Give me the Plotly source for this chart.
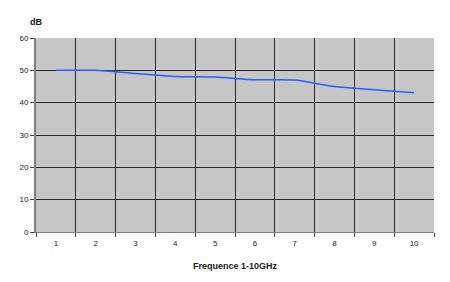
import plotly.graph_objects as go

categories = ["1", "2", "3", "4", "5", "6", "7", "8", "9", "10"]
db_values = [50, 50, 49, 48.1, 47.9, 47.1, 47, 45, 44, 43.1]
y_ticks = [0, 10, 20, 30, 40, 50, 60]

fig = go.Figure()
fig.add_trace(go.Scatter(
    x=categories, y=db_values, mode="lines",
    line=dict(color="#2660ff", width=1.5, shape="spline", smoothing=0.6),
    showlegend=False, hoverinfo="skip",
))

fig.update_layout(
    width=450, height=282,
    margin=dict(l=36, r=16, t=38, b=50),
    paper_bgcolor="white",
    plot_bgcolor="#c6c6c6",
    font=dict(family="Liberation Sans, Arial, sans-serif", size=8, color="#222222"),
    xaxis=dict(
        type="category", tickson="boundaries",
        showgrid=True, gridcolor="#2a2a2a", gridwidth=1,
        ticks="outside", ticklen=4, tickcolor="#444444",
        showline=True, linecolor="#808080", linewidth=1,
        title=dict(text="<b>Frequence 1-10GHz</b>", font=dict(size=9), standoff=16),
        tickfont=dict(size=8), ticklabelstandoff=3,
        range=[-0.5, 9.5],
    ),
    yaxis=dict(
        range=[0, 60], tickvals=y_ticks,
        showgrid=True, gridcolor="#2a2a2a", gridwidth=1,
        ticks="outside", ticklen=4, tickcolor="#444444",
        showline=True, linecolor="#808080", linewidth=2,
        zeroline=False, tickfont=dict(size=8),
    ),
    annotations=[dict(
        text="<b>dB</b>", xref="paper", yref="paper",
        x=0.0, y=1.085, xanchor="center", yanchor="middle",
        showarrow=False, font=dict(size=9, color="#111111"),
    )],
)

fig.write_html("out.html")
